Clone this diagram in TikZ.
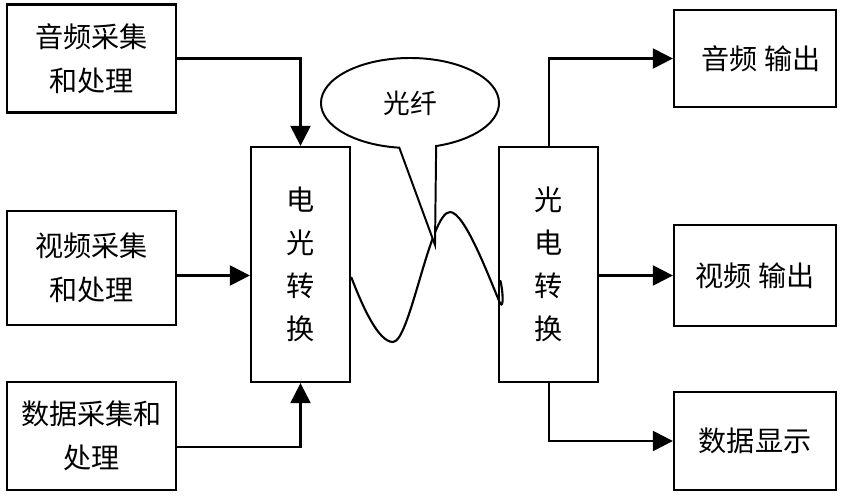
\documentclass[tikz,border=0pt]{standalone}
\usepackage{fontspec}
\newfontfamily\cjk{Noto Sans CJK SC}
\usetikzlibrary{arrows.meta, positioning, shapes.geometric, shapes.callouts}
\tikzset{
    unit/.style={
        rectangle,
        draw=black,
        line width=1.6pt,
        minimum width=4.225cm,
        minimum height=2.7cm,
        align=center,
        font=\cjk\fontsize{20}{31}\selectfont
    },
    outunit/.style={
        unit,
        minimum width=4.05cm,
        minimum height=2.45cm
    },
    conv/.style={
        rectangle,
        draw=black,
        line width=1.6pt,
        minimum width=2.475cm,
        minimum height=5.875cm,
        align=center,
        font=\cjk\fontsize{20}{30.5}\selectfont
    },
    bubble/.style={
        ellipse callout,
        draw=black,
        line width=1.4pt,
        fill=white,
        minimum width=4.45cm,
        minimum height=2.25cm,
        callout pointer arc=24,
        font=\cjk\fontsize{19}{22}\selectfont
    },
    wire/.style={
        draw=black,
        line width=1.6pt,
        -{Triangle[length=0.5cm, width=0.5cm]}
    },
    fiber/.style={
        draw=black,
        line width=1.5pt
    }
}
\begin{document}
\begin{tikzpicture}[x=0.025cm, y=-0.025cm]
\useasboundingbox (0,0) rectangle (846,500);

% Converters
\node[conv] (eo) at (300.5,264.5) {电\\光\\转\\换};
\node[conv, right=3.675cm of eo] (oe) {光\\电\\转\\换};

% Inputs
\node[unit] (ain) at (91.5,58.5) {音频采集\\和处理};
\node[unit, minimum height=2.85cm] (vin) at (91.5,268) {视频采集\\和处理};
\node[unit] (din) at (91.5,436) {数据采集和\\处理};

% Outputs
\node[outunit, minimum height=2.425cm] (aout) at (755,58.5) {\hspace{0.3cm}音频 输出};
\node[outunit, minimum height=2.525cm] (vout) at (755,275.5) {视频 输出};
\node[outunit] (dout) at (755,441) {数据显示};

% Fiber link
\coordinate (fa) at ([yshift=-0.31cm]eo.east);
\coordinate (fb) at ([shift={(0.05cm,-0.39cm)}]oe.west);
\draw[fiber] (fa) .. controls (362,305) and (378,342) .. (393,342)
    .. controls (410,342) and (430,212) .. (450,212)
    .. controls (465,212) and (490,280) .. (500,303)
    .. controls (504,310) and (503,290) .. (fb);

% Callout
\node[bubble, callout absolute pointer={(435,245)}] (fibre) at (410,103) {光纤};

% Connections
\draw[wire] (ain.east) -| (eo.north);
\draw[wire] (vin.east |- vout.west) -- (eo.west |- vout.west);
\draw[wire] ([yshift=-0.275cm]din.east) -| (eo.south);
\draw[wire] (oe.north) |- (aout.west);
\draw[wire] (oe.east |- vout.west) -- (vout.west);
\draw[wire] (oe.south) |- (dout.west);

\end{tikzpicture}
\end{document}
